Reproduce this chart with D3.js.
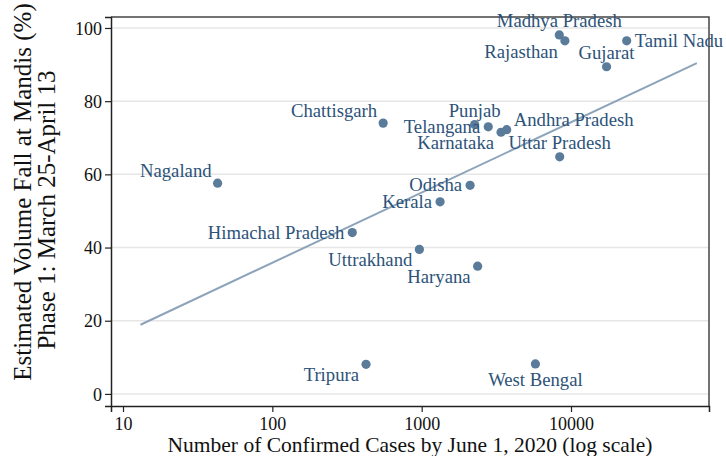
<!DOCTYPE html>
<html>
<head>
<meta charset="utf-8">
<script src="https://cdn.jsdelivr.net/npm/d3@7"></script>
<style>
  body { margin: 0; background: #fff; }
  text { font-family: "Liberation Serif", "Times New Roman", serif; }
</style>
</head>
<body>
<script>
// states, confirmed cases (June 1) and estimated volume fall (%)
var states = ["Madhya Pradesh","Rajasthan","Tamil Nadu","Gujarat","Chattisgarh","Punjab",
  "Telangana","Andhra Pradesh","Karnataka","Uttar Pradesh","Nagaland","Odisha","Kerala",
  "Himachal Pradesh","Uttrakhand","Haryana","Tripura","West Bengal"];
var cases = [8350, 9100, 23600, 17300, 552, 2263, 2792, 3710, 3400, 8400, 43, 2110, 1328,
  343, 965, 2370, 424, 5775];
var volFall = [98.1, 96.5, 96.5, 89.4, 74.0, 73.6, 73.0, 72.2, 71.5, 64.8, 57.6, 57.0, 52.5,
  44.1, 39.5, 34.9, 8.1, 8.2];
// label clock position for each state
var labelPos = [12, 7, 3, 12, 10, 12, 9, 2, 7, 12, 10, 9, 9, 9, 7, 7, 7, 6];

// fitted line end points
var fitCases = [13.1, 69600];
var fitVol = [18.9, 90.4];

var xTicks = [10, 100, 1000, 10000];
var yTicks = [0, 20, 40, 60, 80, 100];

var W = 726, H = 456;
var margin = {top: 17, right: 17, bottom: 50, left: 111};
var width = W - margin.left - margin.right,
    height = H - margin.top - margin.bottom;

var svg = d3.select("body").append("svg")
    .attr("width", W)
    .attr("height", H);

var g = svg.append("g")
    .attr("transform", "translate(" + margin.left + "," + margin.top + ")");

var x = d3.scaleLog().domain([8.31, 83950]).range([0, width]);
var y = d3.scaleLinear().domain([-3.3, 103]).range([height, 0]);

// grid
g.append("g").selectAll("line")
  .data(yTicks)
  .enter().append("line")
    .attr("x1", 0).attr("x2", width)
    .attr("y1", function(d){ return y(d); })
    .attr("y2", function(d){ return y(d); })
    .style("stroke", "#e6e6e6")
    .style("stroke-width", 1.5);

// frame top/right
g.append("path")
  .attr("d", "M0,0H" + width + "V" + height)
  .style("fill", "none")
  .style("stroke", "#444")
  .style("stroke-width", 1.5);

// axes
var xAxis = g.append("g")
    .attr("transform", "translate(0," + height + ")")
    .call(d3.axisBottom(x).tickValues(xTicks).tickFormat(d3.format("d")).tickSize(6).tickPadding(5));
var yAxis = g.append("g")
    .call(d3.axisLeft(y).tickValues(yTicks).tickSize(6).tickPadding(3));

[xAxis, yAxis].forEach(function(a){
  a.select(".domain").style("stroke", "#222").style("stroke-width", 1.5);
  a.selectAll(".tick line").style("stroke", "#222").style("stroke-width", 1.2);
  a.selectAll(".tick text")
    .style("font-family", "'Liberation Serif', serif")
    .style("font-size", "18px")
    .style("fill", "#111");
});
yAxis.selectAll(".tick text").attr("dy", "0.34em");
xAxis.selectAll(".tick text").attr("dy", "0.71em");

// fit line
var line = d3.line()
    .x(function(d){ return x(d[0]); })
    .y(function(d){ return y(d[1]); });
g.append("path")
  .datum(d3.zip(fitCases, fitVol))
  .attr("d", line)
  .style("fill", "none")
  .style("stroke", "#8ca3ba")
  .style("stroke-width", 2);

// points
var pts = d3.range(states.length);
g.append("g").selectAll("circle")
  .data(pts)
  .enter().append("circle")
    .attr("cx", function(i){ return x(cases[i]); })
    .attr("cy", function(i){ return y(volFall[i]); })
    .attr("r", 4.6)
    .attr("fill", "#5a7b99");

// label offsets by clock position
var clock = {
  12: {dx: 0, dy: -8, a: "middle"},
  6: {dx: 0, dy: 22, a: "middle"},
  3: {dx: 8, dy: 6, a: "start"},
  2: {dx: 7, dy: -4, a: "start"},
  9: {dx: -8, dy: 6, a: "end"},
  7: {dx: -7, dy: 17, a: "end"},
  10: {dx: -6, dy: -6, a: "end"}
};

g.append("g").selectAll("text")
  .data(pts)
  .enter().append("text")
    .attr("x", function(i){ return x(cases[i]) + clock[labelPos[i]].dx; })
    .attr("y", function(i){ return y(volFall[i]) + clock[labelPos[i]].dy; })
    .attr("text-anchor", function(i){ return clock[labelPos[i]].a; })
    .style("font-size", "18.7px")
    .style("fill", "#2c5379")
    .text(function(i){ return states[i]; });

// axis titles
svg.append("text")
  .attr("x", 410)
  .attr("y", 452)
  .attr("text-anchor", "middle")
  .style("font-size", "21.5px")
  .style("fill", "#111")
  .text("Number of Confirmed Cases by June 1, 2020 (log scale)");

svg.append("text")
  .attr("transform", "translate(31,192) rotate(-90)")
  .attr("text-anchor", "middle")
  .style("font-size", "25px")
  .style("fill", "#111")
  .text("Estimated Volume Fall at Mandis (%)");

svg.append("text")
  .attr("transform", "translate(55,210) rotate(-90)")
  .attr("text-anchor", "middle")
  .style("font-size", "25px")
  .style("fill", "#111")
  .text("Phase 1: March 25-April 13");
</script>
</body>
</html>
